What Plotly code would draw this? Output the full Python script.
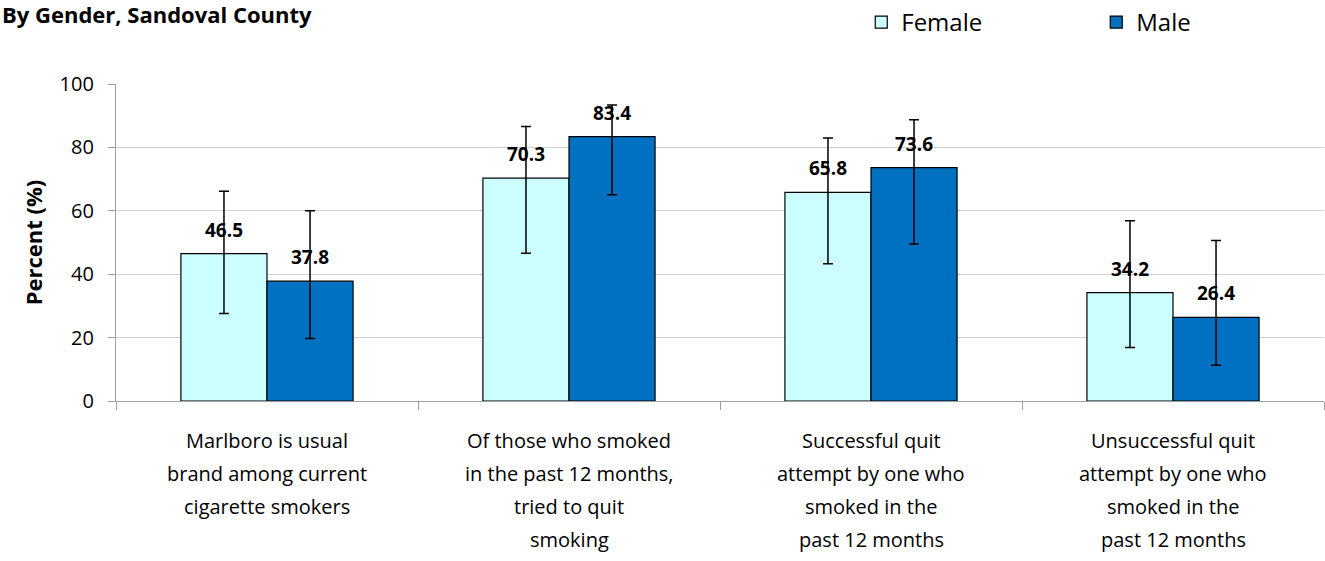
import plotly.graph_objects as go

categories = [
    "Marlboro is usual<br>brand among current<br>cigarette smokers",
    "Of those who smoked<br>in the past 12 months,<br>tried to quit<br>smoking",
    "Successful quit<br>attempt by one who<br>smoked in the<br>past 12 months",
    "Unsuccessful quit<br>attempt by one who<br>smoked in the<br>past 12 months",
]
female = [46.5, 70.3, 65.8, 34.2]
male = [37.8, 83.4, 73.6, 26.4]
female_upper = [66.2, 86.6, 83.0, 56.9]
female_lower = [27.6, 46.6, 43.3, 16.9]
male_upper = [60.0, 93.4, 88.7, 50.6]
male_lower = [19.7, 65.1, 49.5, 11.3]

x = list(range(len(categories)))
FONT = "Open Sans"
BARGAP = 0.43
bar_w = (1 - BARGAP) / 2

def trace(name, vals, up, lo, color):
    return go.Bar(
        name=name, x=x, y=vals,
        marker=dict(color=color, line=dict(color="black", width=1.2)),
        error_y=dict(type="data", symmetric=False,
                     array=[u - v for u, v in zip(up, vals)],
                     arrayminus=[v - l for v, l in zip(vals, lo)],
                     color="black", thickness=1.5, width=5),
    )

fig = go.Figure([
    trace("Female", female, female_upper, female_lower, "#CCFFFF"),
    trace("Male", male, male_upper, male_lower, "#0070C0"),
])

annotations = [dict(text="<b>By Gender, Sandoval County</b>", x=0, y=1.0,
                    xref="paper", yref="paper", xanchor="left", yanchor="top",
                    xshift=-116, yshift=87, showarrow=False,
                    font=dict(size=22, family=FONT))]
for i, cat in enumerate(categories):
    for k, line in enumerate(cat.split("<br>")):
        annotations.append(dict(text=line, x=x[i], y=0, xref="x", yref="paper",
                                xanchor="center", yanchor="middle",
                                yshift=-39 - 33 * k, showarrow=False,
                                font=dict(size=20, family=FONT)))
for vals, sign in ((female, -1), (male, 1)):
    for i, v in enumerate(vals):
        annotations.append(dict(text=f"<b>{v:.1f}</b>", x=x[i] + sign * bar_w / 2, y=v,
                                xref="x", yref="y", xanchor="center", yanchor="middle",
                                yshift=24, showarrow=False,
                                font=dict(size=19, family=FONT)))

fig.update_layout(
    width=1325, height=561,
    margin=dict(l=116, r=1, t=84, b=160, autoexpand=False),
    plot_bgcolor="white", paper_bgcolor="white",
    barmode="group", bargap=BARGAP, bargroupgap=0,
    font=dict(family=FONT, color="black"),
    legend=dict(orientation="h", xref="container", yref="container",
                x=0.65, y=0.96, xanchor="left", yanchor="middle",
                font=dict(size=24), entrywidth=190,
                traceorder="normal"),
    annotations=annotations,
)
fig.update_yaxes(range=[0, 100], dtick=20, showgrid=True, gridcolor="#D0D0D0",
                 gridwidth=1.2, showline=True, linecolor="#A0A0A0", linewidth=1.2,
                 ticks="outside", ticklen=7, tickcolor="#A0A0A0",
                 tickfont=dict(size=20), ticklabelstandoff=10,
                 title=dict(text="<b>Percent (%)</b>", font=dict(size=22), standoff=10),
                 zeroline=False)
fig.update_xaxes(range=[-0.5, 3.5], tickvals=x, ticktext=[""] * len(x),
                 ticks="", showline=True,
                 linecolor="#A0A0A0", linewidth=1.2, showgrid=False,
                 minor=dict(tick0=-0.5, dtick=1, ticks="outside", ticklen=8,
                            tickcolor="#A0A0A0", showgrid=False))

fig.write_html("out.html", config={"displayModeBar": False},
               post_script="document.body.style.margin='0';")
